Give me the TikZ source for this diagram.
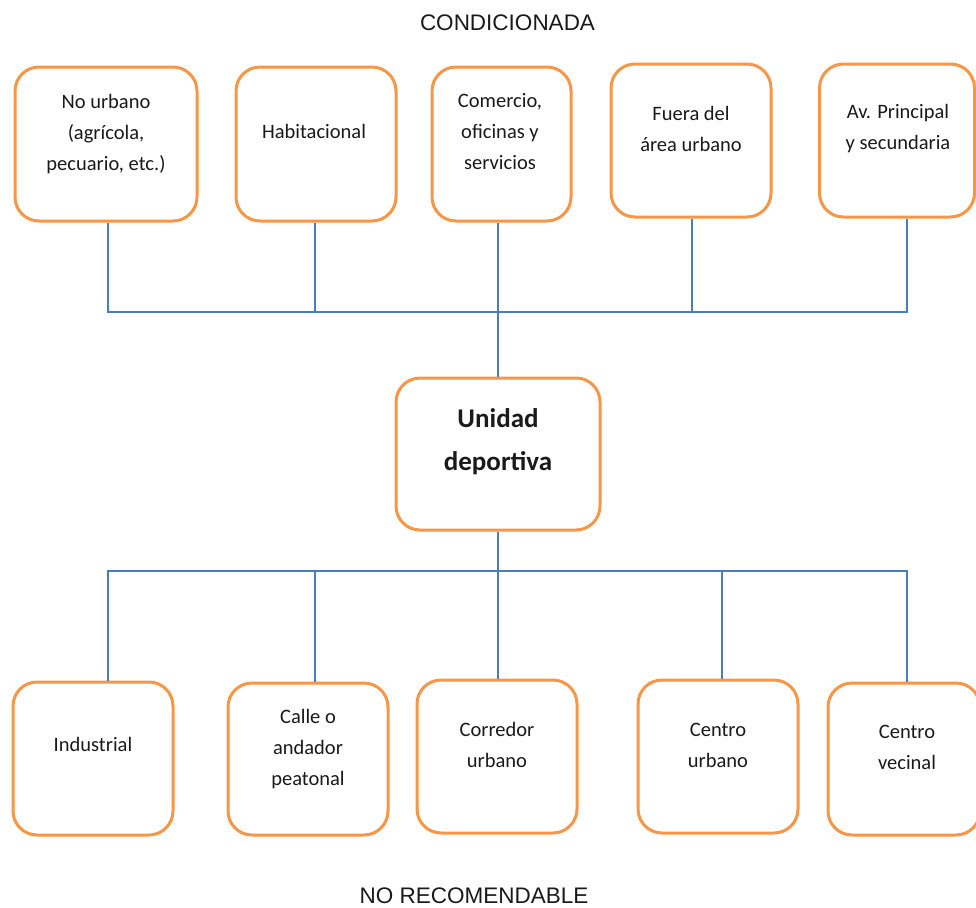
\documentclass[tikz,border=0pt]{standalone}
\usepackage{fontspec}
\setmainfont{Carlito}
\newfontfamily\arialf{Liberation Sans}
\definecolor{boxorange}{HTML}{F79646}
\definecolor{linkblue}{HTML}{4A7EBB}
\definecolor{txtdark}{HTML}{1A1A1A}
\begin{document}
\begin{tikzpicture}[x=1pt,y=-1pt,
  box/.style={draw=boxorange,line width=3pt,rounded corners=24pt,fill=white,
    minimum width=#1,inner sep=0pt},
  txt/.style={align=center,text=txtdark,inner sep=0pt,font=\fontsize{20.5}{31}\selectfont},
  bigtxt/.style={align=center,text=txtdark,inner sep=0pt,font=\fontsize{27}{43}\selectfont\bfseries},
  title/.style={text=txtdark,inner sep=0pt,font=\arialf\fontsize{22.5}{26}\selectfont},
  link/.style={draw=linkblue,line width=1.3pt}]
\useasboundingbox (0,0) rectangle (976,907);

% titles
\node[title] (cond) at (507.5,22.5) {CONDICIONADA};
\node[title] (norec) at (474,895.5) {NO RECOMENDABLE};

% connector coordinates
\coordinate (busT) at (498,312);
\coordinate (busB) at (498,571);
\coordinate (x1) at (108,0);
\coordinate (x2) at (315,0);
\coordinate (x3) at (498,0);
\coordinate (x4) at (692,0);
\coordinate (x5) at (907,0);
\coordinate (y1) at (722,0);

% top boxes
\node[box=182pt,minimum height=154pt] (t1) at (106,144) {};
\node[box=160pt,minimum height=154pt] (t2) at (316,144) {};
\node[box=139pt,minimum height=154pt] (t3) at (501.5,144) {};
\node[box=160pt,minimum height=153pt] (t4) at (691,140.5) {};
\node[box=155pt,minimum height=153pt] (t5) at (897,140.5) {};

% centre
\node[box=204pt,minimum height=152pt] (c) at (498,454) {};

% bottom boxes
\node[box=160pt,minimum height=153pt] (b1) at (93,758.5) {};
\node[box=160pt,minimum height=152pt] (b2) at (308,759) {};
\node[box=160pt,minimum height=153pt] (b3) at (497,756.5) {};
\node[box=160pt,minimum height=153pt] (b4) at (718,756.5) {};
\node[box=152pt,minimum height=152pt] (b5) at (904,759) {};

% connectors top
\draw[link] (t1.south -| x1) -- (busT -| x1) -- (busT -| x5) -- (t5.south -| x5);
\draw[link] (t2.south -| x2) -- (busT -| x2);
\draw[link] (t3.south -| x3) -- (busT -| x3);
\draw[link] (t4.south -| x4) -- (busT -| x4);
\draw[link] (busT) -- (c.north);

% connectors bottom
\draw[link] (c.south) -- (busB);
\draw[link] (b1.north -| x1) -- (busB -| x1) -- (busB -| x5) -- (b5.north -| x5);
\draw[link] (b2.north -| x2) -- (busB -| x2);
\draw[link] (b3.north -| x3) -- (busB -| x3);
\draw[link] (b4.north -| y1) -- (busB -| y1);

% texts
\node[txt] (t1t) at (106,134) {No urbano\\(agrícola,\\pecuario, etc.)};
\node[txt] (t2t) at (314,131) {Habitacional};
\node[txt] (t3t) at (500,132) {Comercio,\\oficinas y\\servicios};
\node[txt] (t4t) at (691,128.5) {Fuera del\\área urbano};
\node[txt] (t5t) at (898,128.5) {Av. Principal\\y secundaria};
\node[bigtxt] (ct) at (498,441.5) {Unidad\\deportiva};
\node[txt] (b1t) at (93,744) {Industrial};
\node[txt] (b2t) at (308,749) {Calle o\\andador\\peatonal};
\node[txt] (b3t) at (497,745) {Corredor\\urbano};
\node[txt] (b4t) at (718,745) {Centro\\urbano};
\node[txt] (b5t) at (907,747) {Centro\\vecinal};
\end{tikzpicture}
\end{document}
